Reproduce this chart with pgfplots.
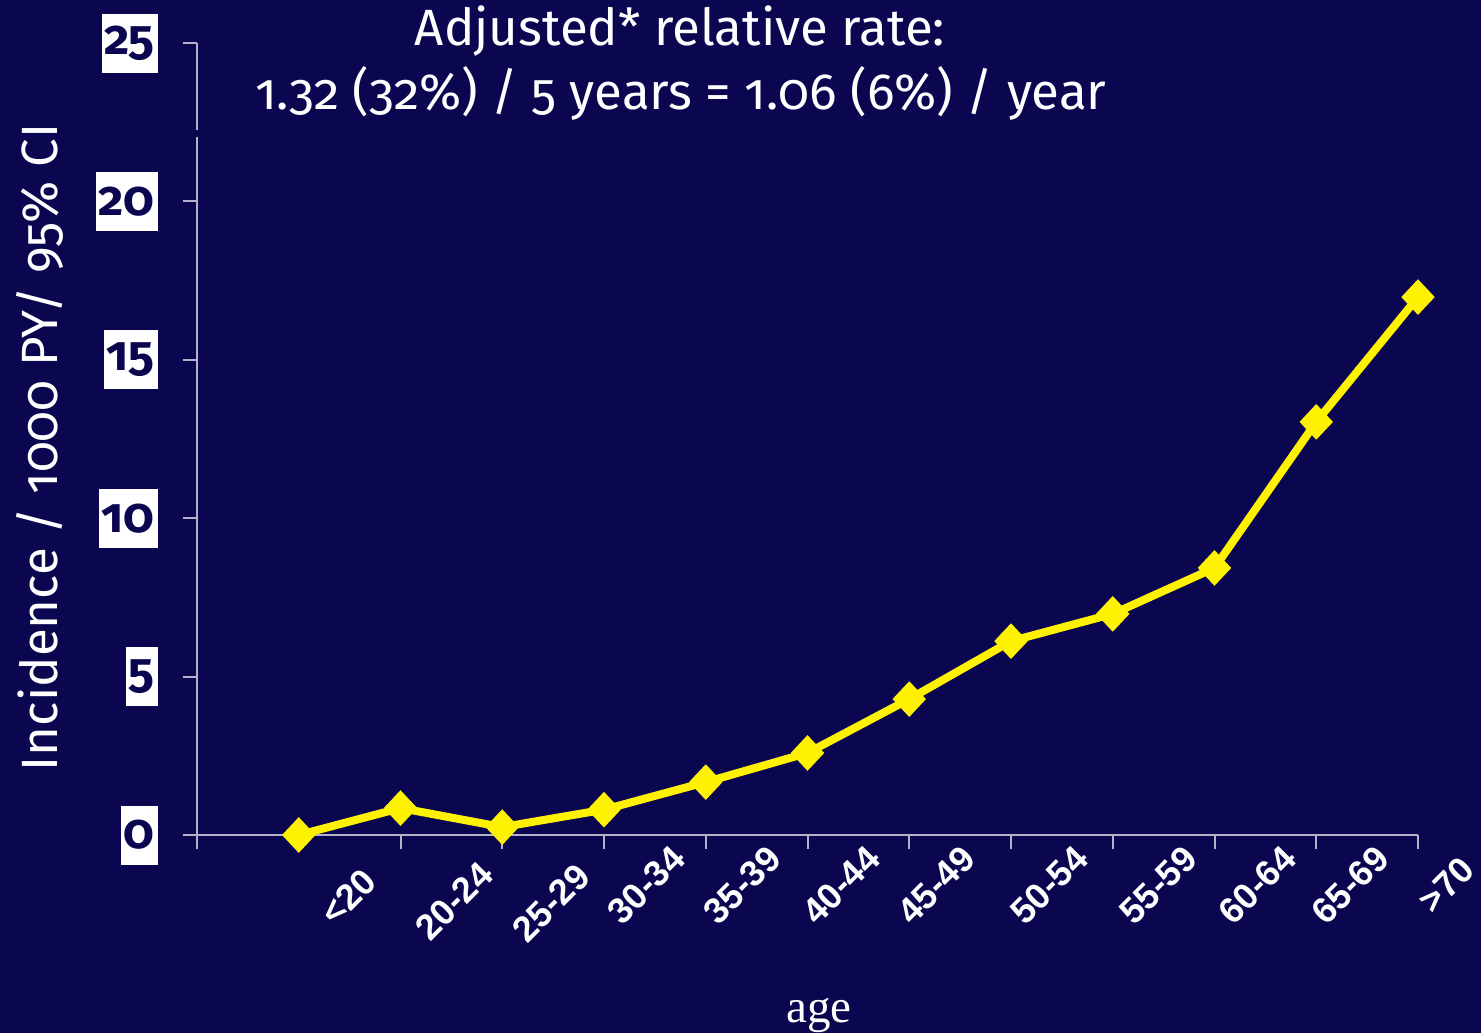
\documentclass[border=0pt]{standalone}
\usepackage{fontspec}
\setmainfont{Fira Sans}[Numbers=OldStyle]
\newfontfamily\arialfont{Liberation Sans}
\newfontfamily\timesfont{Liberation Serif}
\usepackage{pgfplots}
\usepackage{pgfplotstable}
\pgfplotsset{compat=1.18}

\definecolor{bg}{RGB}{11,6,80}
\definecolor{axisgray}{RGB}{178,178,202}

% incidence per 1000 person-years by age group (1 = <20, ..., 12 = >70)
\pgfplotstableread{
x  y
1  0.00
2  0.85
3  0.25
4  0.80
5  1.67
6  2.59
7  4.29
8  6.12
9  6.98
10 8.43
11 13.04
12 16.98
}\incidence

\begin{document}
\begin{tikzpicture}
% page frame (1 unit = 0.5bp): fixed size, everything else is cropped to it
\path[use as bounding box] (0,0) rectangle (740.5bp,-516.5bp);
\fill[bg] (-10bp,10bp) rectangle (750bp,-526bp);

\begin{axis}[
  at={(98.5bp,-417.5bp)}, anchor=south west,
  scale only axis, width=610.5bp, height=396bp,
  xmin=0, xmax=12, ymin=0, ymax=25,
  axis x line*=bottom, axis y line*=left,
  axis line style={axisgray, line width=1bp},
  tick style={axisgray, line width=1bp},
  tick align=outside,
  major tick length=7bp,
  xtick={0,...,12}, xticklabels={},
  ytick={0,5,...,25},
  /pgf/number format/assume math mode=true,
  yticklabel style={font=\fontsize{24.5bp}{28bp}\selectfont\bfseries,
    text=bg, fill=white, inner xsep=1.5bp, inner ysep=0pt,
    minimum height=29.5bp, anchor=east, xshift=-12.5bp},
  clip=false,
]
\addplot[yellow, line width=4bp, mark=diamond*, mark size=6bp,
  mark options={xscale=1.25, fill=yellow}] table {\incidence};
\end{axis}

\begin{scope}[x=0.5bp,y=-0.5bp]
  % break in the vertical axis under the heading
  \fill[bg] (190,130) rectangle (204,137);

  % heading
  \node[anchor=base, text=white, font=\fontsize{25.5bp}{30bp}\selectfont]
    at (680,45) {Adjusted* relative rate:};
  \node[anchor=base, text=white, font=\fontsize{25.5bp}{30bp}\selectfont]
    at (681,110) {1.32 (32\%) / 5 years = 1.06 (6\%) / year};

  % y axis title
  \node[rotate=90, anchor=base, text=white, font=\fontsize{25.5bp}{30bp}\selectfont]
    at (57,447.5) {Incidence / 1000 PY/ 95\% CI};

  % age-group labels
  \begin{scope}[every node/.style={rotate=45, text=white,
      font=\arialfont\bfseries\fontsize{18bp}{21bp}\selectfont}]
    \node at (348,897) {<20};
    \node at (454,901) {20-24};
    \node at (551,903) {25-29};
    \node at (646,885) {30-34};
    \node at (742,885) {35-39};
    \node at (841,885) {40-44};
    \node at (936,885) {45-49};
    \node at (1049,885) {50-54};
    \node at (1158,885) {55-59};
    \node at (1257,885) {60-64};
    \node at (1350,885) {65-69};
    \node at (1446,885) {>70};
  \end{scope}

  % x axis title
  \node[anchor=base, text=white, font=\timesfont\fontsize{23.5bp}{28bp}\selectfont]
    at (819,1023) {age};
\end{scope}
\end{tikzpicture}
\end{document}
